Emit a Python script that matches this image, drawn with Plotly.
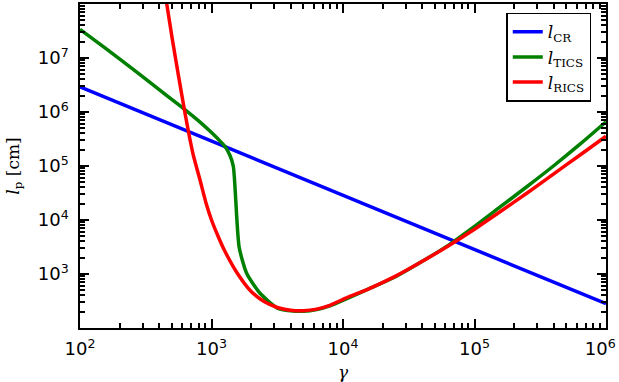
import plotly.graph_objects as go

# Lorentz factor grid and path lengths (cm)
gamma_cr = [1e2, 1e6]
l_cr = [2.92e6, 2.82e2]

gamma_tics = [
    1e2, 158.5, 251, 398, 501, 631, 794, 1000, 1122, 1259, 1380, 1466,
    1622, 1854, 2339, 3162, 3981, 5012, 6310, 7943, 1e4, 15849, 25119,
    39811, 63096, 1e5, 158489, 251189, 398107, 630957, 1e6,
]
l_tics = [
    3.39e7, 1.48e7, 6.31e6, 2.63e6, 1.70e6, 1.10e6, 6.92e5, 4.17e5, 3.16e5,
    2.34e5, 1.58e5, 9.8e4, 3.16e3, 1.02e3, 4.40e2, 2.34e2, 2.09e2, 2.04e2,
    2.19e2, 2.57e2, 3.24e2, 5.37e2, 8.91e2, 1.70e3, 3.39e3, 7.59e3, 1.78e4,
    4.17e4, 1.0e5, 2.51e5, 6.61e5,
]

gamma_rics = [
    417, 457, 501, 562, 631, 724, 818, 912, 1000, 1122, 1259, 1585, 1995,
    2512, 3162, 3981, 5012, 6310, 7943, 1e4, 15849, 25119, 39811, 63096,
    1e5, 158489, 251189, 398107, 630957, 1e6,
]
l_rics = [
    3.55e8, 1.0e8, 2.40e7, 4.57e6, 9.1e5, 1.66e5, 5.50e4, 2.0e4, 1.0e4,
    5.01e3, 2.69e3, 1.0e3, 4.79e2, 3.09e2, 2.40e2, 2.14e2, 2.09e2, 2.24e2,
    2.63e2, 3.39e2, 5.37e2, 9.12e2, 1.70e3, 3.31e3, 6.76e3, 1.45e4, 3.16e4,
    7.08e4, 1.58e5, 3.55e5,
]

x_ticks = [1e2, 1e3, 1e4, 1e5, 1e6]
x_labels = ["10<sup>2</sup>", "10<sup>3</sup>", "10<sup>4</sup>", "10<sup>5</sup>",
            "10<sup>6</sup>\u00a0\u00a0"]
y_ticks = [1e3, 1e4, 1e5, 1e6, 1e7]
y_labels = ["10<sup>3</sup>", "10<sup>4</sup>", "10<sup>5</sup>", "10<sup>6</sup>", "10<sup>7</sup>"]

serif = "DejaVu Serif, serif"
sans = "DejaVu Sans, sans-serif"


def minor_ticks(lo, hi):
    return [m * 10.0 ** k for k in range(lo, hi) for m in range(2, 10)]


fig = go.Figure()
for xs, ys, name, color in [
    (gamma_cr, l_cr, "<i>l</i><sub>CR</sub>", "#0000ff"),
    (gamma_tics, l_tics, "<i>l</i><sub>TICS</sub>", "#008000"),
    (gamma_rics, l_rics, "<i>l</i><sub>RICS</sub>", "#ff0000"),
]:
    fig.add_trace(go.Scatter(
        x=xs, y=ys, mode="lines", name=name, legendgroup=name,
        line=dict(color=color, width=3.5, shape="spline", smoothing=0.6),
    ))

axis_common = dict(
    type="log", automargin=False, tickmode="array",
    showline=True, linecolor="black", linewidth=1.5, mirror="allticks",
    ticks="inside", ticklen=9, tickwidth=2, tickcolor="black",
    showgrid=False, zeroline=False, ticklabeloverflow="allow",
    tickfont=dict(family=sans, size=18, color="black"),
)

fig.update_layout(
    width=619, height=382,
    margin=dict(l=80, r=13, t=4, b=54),
    paper_bgcolor="white", plot_bgcolor="white",
    font=dict(color="black"),
    showlegend=True,
    xaxis=dict(
        axis_common, range=[2, 6],
        tickvals=x_ticks, ticktext=x_labels, ticklabelstandoff=4,
        minor=dict(tickmode="array", tickvals=minor_ticks(2, 6), ticks="inside",
                   ticklen=5, tickwidth=1.6, tickcolor="black", showgrid=False),
        title=dict(text="<i>γ</i>", font=dict(family=serif, size=17, color="black"), standoff=10),
    ),
    yaxis=dict(
        axis_common, range=[2, 8],
        tickvals=y_ticks, ticktext=y_labels, ticklabelstandoff=6,
        minor=dict(tickmode="array", tickvals=minor_ticks(2, 8), ticks="inside",
                   ticklen=5, tickwidth=1.6, tickcolor="black", showgrid=False),
        title=dict(text="<i>l</i><sub>p</sub> [cm]", font=dict(family=serif, size=17, color="black"), standoff=14),
    ),
    legend=dict(
        x=0.972, y=0.973, xanchor="right", yanchor="top",
        bgcolor="white", bordercolor="black", borderwidth=1.5,
        traceorder="grouped", tracegroupgap=0,
        font=dict(family=serif, size=17, color="black"),
    ),
)

fig.write_html("out.html", config={"displayModeBar": False},
               post_script="document.body.style.margin='0';")
